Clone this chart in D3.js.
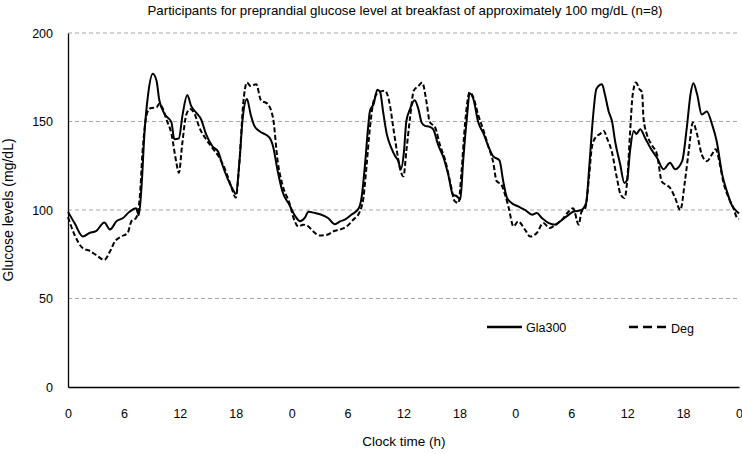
<!DOCTYPE html>
<html lang="en">
<head>
    <meta charset="UTF-8">
    <title>Glucose levels</title>
    <script src="https://cdn.jsdelivr.net/npm/d3@7"></script>
    <style>
        body { margin: 0; background: #fff; }
        text { font-family: "Liberation Sans", Arial, sans-serif; fill: #000; }
    </style>
</head>
<body>
    <svg id="body" width="742" height="454"></svg>
</body>
<script>
    // hours since start (3 days) and mean glucose, mg/dL
    let glaHours = [0,0.7,1.6,2.3,3.0,3.9,4.5,5.2,5.9,6.6,7.3,7.6,7.9,8.2,8.6,9.1,9.5,9.8,10.4,11.1,11.4,11.9,12.3,12.8,13.2,13.75,14.3,14.8,15.5,16.1,16.6,17.1,17.7,18.0,18.4,18.75,19.2,19.6,20,20.5,21.6,22,22.5,23,23.75,24.4,24.9,25.4,25.8,26.5,27.2,27.9,28.65,29.2,29.7,30.4,31.2,31.5,31.9,32.2,32.4,32.8,33.2,33.5,33.8,34.2,34.7,35.1,35.45,35.7,36.05,36.3,36.7,37.2,37.6,37.95,38.3,38.8,39.2,39.7,40.3,40.8,41.3,41.7,42.1,42.4,42.8,43.1,43.5,44,44.6,45.1,45.6,46.3,46.7,47.1,47.6,48.3,49.05,49.8,50.3,50.85,51.6,52.3,52.8,53.5,54.2,55.1,55.6,55.95,56.3,56.7,57.3,57.6,58,58.4,58.7,59.25,59.7,60,60.3,60.7,61.0,61.4,61.9,62.5,63.2,63.9,64.6,65.15,65.9,66.4,66.8,67.1,67.5,68,68.55,69.1,69.6,70.2,70.7,71.2,71.8,72]
    let glaValues = [99,92.6,85,87,88,93,89,93.6,95.5,99,101,97,114,143,165.5,177,173,162,154,149.5,140,140.5,154,165,159,155,151,143,136,133,125,118,111.5,109,127.6,152,162.7,154,147.5,144.7,141,136,122,110.6,103,96.4,93.6,95.5,99,98.3,97.3,95.5,92,93.6,94.5,97.3,101,107,127.6,146.6,156,160,168,166.5,156,143,135,130.5,127.6,123,133,150,157,162,157,149.4,147.5,147,145.6,137,129.5,120,108.7,107.8,106,127.6,152,166,162.7,150,143,136,130.5,128,116.3,107,104,102,100,97.3,98.3,95.5,92.6,91.7,93.6,96.4,99,100,104,125.8,150.4,168.4,171,165.5,156,149.4,139,125.8,115.3,117,133,144.7,143,145.6,141,135,129.5,123,126.7,123,127.6,146.6,165.5,171.6,165.5,154,155.7,148.5,139,120,110.6,103,99,98]

    let degHours = [0,0.7,1.6,2.3,3.0,3.9,4.5,5.0,5.7,6.4,6.8,7.3,7.7,8.0,8.5,8.9,9.5,9.8,10.2,10.5,11.1,11.6,11.9,12.25,12.7,13.1,13.6,14.1,14.8,15.5,16.25,17,17.5,18,18.4,18.8,19.2,19.6,20.2,20.7,21.4,22,22.5,23,23.75,24.2,24.7,25.25,25.8,26.3,27.0,27.8,28.5,29.2,29.9,30.6,31.3,31.7,32.05,32.4,32.8,33.3,34.0,34.55,34.9,35.3,35.6,36,36.3,36.7,37.1,37.6,38.0,38.5,38.8,39.4,39.9,40.5,41,41.5,41.9,42.2,42.6,43.1,43.5,44,44.6,45.1,45.6,46,46.5,46.9,47.3,47.8,48.3,49.05,49.6,50.3,51,51.7,52.3,53,53.7,54.2,54.8,55.1,55.5,55.9,56.2,56.6,57.1,57.5,57.8,58.35,58.9,59.3,59.7,60,60.3,60.6,60.95,61.3,61.6,61.75,62.1,62.6,63.2,63.7,64.1,64.6,65.15,65.7,66.2,66.6,67.05,67.5,68,68.55,69.1,69.5,69.95,70.3,70.9,71.4,71.8,72]
    let degValues = [96,86,78.4,77,74.6,71.8,76.5,82,85,87,93.6,95.5,107,133,155,157.6,158,160,157,152,143,127.6,121,137,154,157,154,146.6,140,135,129.5,121,113.4,107,127.6,160,172,170,171,162,160,152,127.6,114.4,104,95.5,90.7,91.7,90.7,88,85.6,86,88,89,90.7,94.5,99,107,125.8,146.6,161.7,166.5,167.4,159,146.6,133,124,119,133,152,167.4,170,172,160,150,146.6,137,127.6,116,105,104,120,148.5,166.5,163.6,154,144.7,136,127.6,116.3,114.4,108.7,101,90.7,93.6,88.8,85,87,92.6,89.8,91.7,94.5,99,101,91.7,99,101,118,135,141,143,144.7,141,133,118,108.7,106.8,116.3,142.8,165.5,172,168.4,166.5,152,143,137,131.4,116.3,114.4,112.5,106.8,100,116.3,133,149.4,142.8,131.4,127.6,131.4,134.3,125.8,116.3,106.8,101,95.5,95]

    let xTicks = [0,6,12,18,24,30,36,42,48,54,60,66,72]
    let xTickLabels = ["0","6","12","18","0","6","12","18","0","6","12","18","0"]
    let yTicks = [0,50,100,150,200]

    let body = d3.select("#body")
    let plotLeft = 68, plotRight = 739, plotTop = 33, plotBottom = 387

    let x = d3.scaleLinear().domain([0,72]).range([plotLeft,plotRight])
    let y = d3.scaleLinear().domain([0,200]).range([plotBottom,plotTop])

    // dashed grid
    body.append("g")
        .selectAll("line")
        .data(yTicks.filter(d => d > 0))
        .enter()
        .append("line")
        .attr("x1", plotLeft)
        .attr("x2", plotRight)
        .attr("y1", d => y(d))
        .attr("y2", d => y(d))
        .attr("stroke", "#a6a6a6")
        .attr("stroke-width", 1)
        .attr("stroke-dasharray", "4,3")

    let yaxis = d3.axisLeft(y).tickValues(yTicks).tickSize(0).tickPadding(15)
    let gy = body.append("g")
        .attr("transform", "translate(" + plotLeft + ",0)")
        .call(yaxis)
    gy.select(".domain").attr("stroke", "#000").attr("stroke-width", 1.3)
    gy.selectAll("text").style("font-size", "12.5px")

    let xaxis = d3.axisBottom(x).tickValues(xTicks).tickSize(0).tickPadding(22)
        .tickFormat((d, i) => xTickLabels[i])
    let gx = body.append("g")
        .attr("transform", "translate(0," + plotBottom + ")")
        .call(xaxis)
    gx.select(".domain").attr("stroke", "#000").attr("stroke-width", 1.3)
    gx.selectAll("text").style("font-size", "12.5px")

    let gla = glaHours.map((h, i) => [h, glaValues[i]])
    let deg = degHours.map((h, i) => [h, degValues[i]])

    let line = d3.line()
        .x(d => x(d[0]))
        .y(d => y(d[1]))
        .curve(d3.curveMonotoneX)

    body.append("path")
        .attr("d", line(deg))
        .attr("fill", "none")
        .attr("stroke", "#000")
        .attr("stroke-width", 2)
        .attr("stroke-dasharray", "5,2.5")

    body.append("path")
        .attr("d", line(gla))
        .attr("fill", "none")
        .attr("stroke", "#000")
        .attr("stroke-width", 2)

    // legend
    body.append("line")
        .attr("x1", 487).attr("x2", 522)
        .attr("y1", 327).attr("y2", 327)
        .attr("stroke", "#000").attr("stroke-width", 2.5)
    body.append("text")
        .attr("x", 526).attr("y", 331.5)
        .style("font-size", "12.5px")
        .text("Gla300")
    body.append("line")
        .attr("x1", 629).attr("x2", 669)
        .attr("y1", 327).attr("y2", 327)
        .attr("stroke", "#000").attr("stroke-width", 2.5)
        .attr("stroke-dasharray", "9,5")
    body.append("text")
        .attr("x", 671).attr("y", 332.5)
        .style("font-size", "12.5px")
        .text("Deg")

    body.append("text")
        .attr("x", 405).attr("y", 14.5)
        .attr("text-anchor", "middle")
        .style("font-size", "13.3px")
        .text("Participants for preprandial glucose level at breakfast of approximately 100 mg/dL (n=8)")

    body.append("text")
        .attr("x", 404).attr("y", 446)
        .attr("text-anchor", "middle")
        .style("font-size", "13.5px")
        .text("Clock time (h)")

    body.append("text")
        .attr("transform", "translate(13,210) rotate(-90)")
        .attr("text-anchor", "middle")
        .style("font-size", "14px")
        .text("Glucose levels (mg/dL)")
</script>
</html>
